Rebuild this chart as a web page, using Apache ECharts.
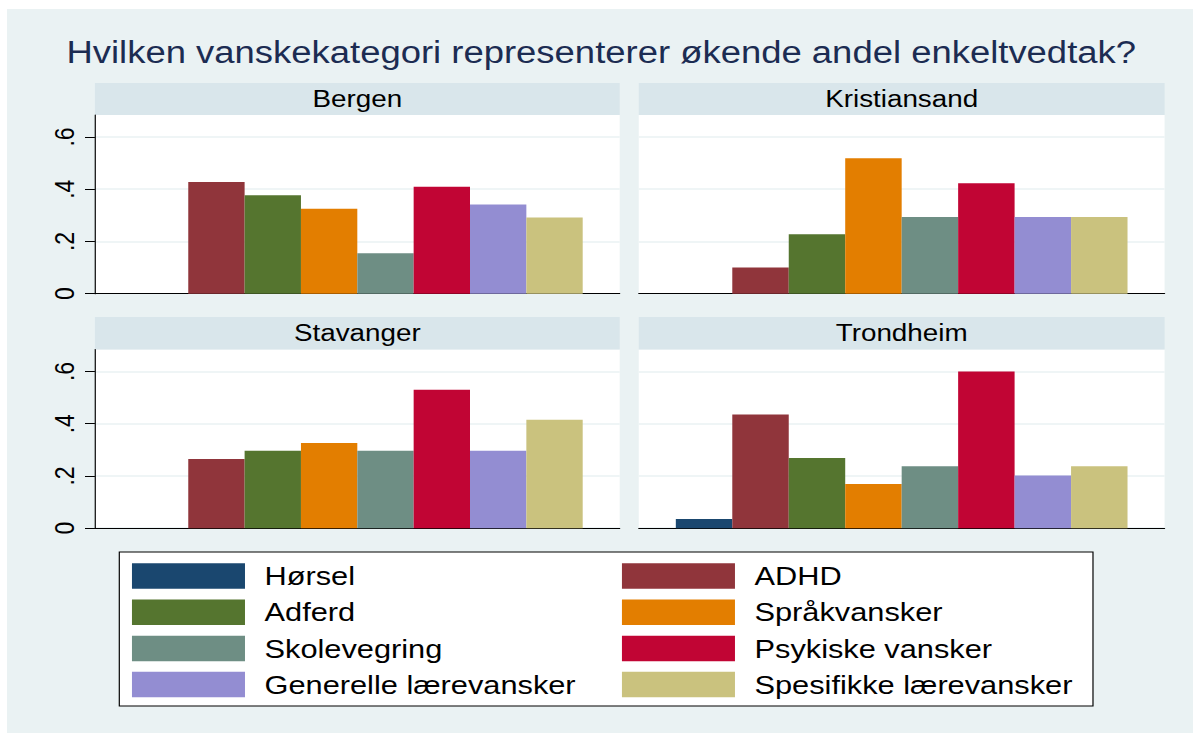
<!DOCTYPE html>
<html>
<head>
<meta charset="utf-8">
<script src="https://cdn.jsdelivr.net/npm/echarts@6.0.0/dist/echarts.min.js"></script>
<style>
  html, body { margin: 0; padding: 0; background: #fff; overflow: hidden; }
  /* the reference is a 4:3-ish graph stretched sideways, so draw narrow and stretch */
  #chart { width: 1008px; height: 733px; transform: scaleX(1.18353); transform-origin: 0 0; }
</style>
</head>
<body>
<div id="chart"></div>
<script>
const titleText = "Hvilken vanskekategori representerer økende andel enkeltvedtak?";
const categories = ["Hørsel", "ADHD", "Adferd", "Språkvansker", "Skolevegring",
  "Psykiske vansker", "Generelle lærevansker", "Spesifikke lærevansker"];
const colors = ["#1a476f", "#90353b", "#55752f", "#e37e00", "#6e8e84",
  "#c10534", "#938dd2", "#cac27e"];
const cities = ["Bergen", "Kristiansand", "Stavanger", "Trondheim"];
const bergen = [0, 0.428, 0.377, 0.325, 0.155, 0.409, 0.341, 0.292];
const kristiansand = [0, 0.1, 0.228, 0.518, 0.294, 0.423, 0.294, 0.294];
const stavanger = [0, 0.265, 0.296, 0.326, 0.296, 0.53, 0.296, 0.415];
const trondheim = [0.035, 0.435, 0.269, 0.169, 0.237, 0.6, 0.202, 0.237];
const yTicks = [0, 0.2, 0.4, 0.6];
const yTickLabels = ["0", ".2", ".4", ".6"];

const cityValues = [bergen, kristiansand, stavanger, trondheim];
const font = "Liberation Sans, Arial, sans-serif";

// plot regions (unstretched px)
const panels = [
  { left: 80.2, top: 115, width: 443.4, height: 178.7 },
  { left: 539.7, top: 115, width: 444.3, height: 178.7 },
  { left: 80.2, top: 349.5, width: 443.4, height: 178.7 },
  { left: 539.7, top: 349.5, width: 444.3, height: 178.7 },
];

let myChart = echarts.init(document.getElementById("chart"), null, { renderer: "svg" });

let series = [];
panels.forEach((p, pi) => {
  categories.forEach((c, ci) => {
    series.push({
      type: "bar",
      name: c,
      xAxisIndex: pi,
      yAxisIndex: pi,
      data: [cityValues[pi][ci]],
      itemStyle: { color: colors[ci] },
      barGap: "0%",
      barCategoryGap: "14.1%",
      silent: true,
    });
  });
});

let graphic = [
  // white outer margin
  { type: "rect", shape: { x: 0, y: 0, width: 1008, height: 9 }, style: { fill: "#fff" } },
  { type: "rect", shape: { x: 0, y: 0, width: 5.9, height: 733 }, style: { fill: "#fff" } },
  {
    type: "text", x: 508, y: 52,
    style: { text: titleText, fontSize: 30.8, fontFamily: font, fill: "#1c2c52", align: "center", verticalAlign: "middle" },
  },
  // legend box
  {
    type: "rect", shape: { x: 100.8, y: 552, width: 822.7, height: 154 },
    style: { fill: "#fff", stroke: "#000", lineWidth: 1 },
  },
];
panels.forEach((p, pi) => {
  let hTop = pi < 2 ? 83 : 317;
  graphic.push({
    type: "rect", shape: { x: p.left, y: hTop, width: p.width, height: p.top - hTop },
    style: { fill: "#d9e6eb" },
  });
  graphic.push({
    type: "text", x: p.left + p.width / 2, y: hTop + (p.top - hTop) / 2,
    style: { text: cities[pi], fontSize: 23.5, fontFamily: font, fill: "#000", align: "center", verticalAlign: "middle" },
  });
});

const legendBase = {
  orient: "vertical",
  top: 563,
  padding: 0,
  icon: "rect",
  itemWidth: 95.5,
  itemHeight: 25.5,
  itemGap: 10.2,
  selectedMode: false,
  textStyle: { fontSize: 26, fontFamily: font, color: "#000", lineHeight: 25.5, padding: [0, 0, 0, 11.5] },
};

myChart.setOption({
  animation: false,
  backgroundColor: "#eaf2f3",
  legend: [
    Object.assign({}, legendBase, { left: 111.5, data: categories.filter((c, i) => i % 2 === 0) }),
    Object.assign({}, legendBase, { left: 525.5, data: categories.filter((c, i) => i % 2 === 1) }),
  ],
  grid: panels.map((p) => ({
    left: p.left, top: p.top, width: p.width, height: p.height,
    show: true, backgroundColor: "#fff", borderWidth: 0,
  })),
  xAxis: panels.map((p, i) => ({
    type: "category",
    gridIndex: i,
    data: [""],
    axisLine: { lineStyle: { color: "#000", width: 1 } },
    axisTick: { show: false },
    axisLabel: { show: false },
  })),
  yAxis: panels.map((p, i) => ({
    type: "value",
    gridIndex: i,
    min: 0,
    max: 0.684,
    interval: 0.2,
    axisLine: { show: i % 2 === 0, lineStyle: { color: "#000", width: 1 } },
    axisTick: { show: i % 2 === 0, length: 8.4, customValues: yTicks, lineStyle: { color: "#000" } },
    axisLabel: {
      show: i % 2 === 0,
      customValues: yTicks,
      rotate: 90,
      margin: 14,
      fontSize: 23,
      fontFamily: font,
      color: "#000",
      formatter: (v) => {
        let k = yTicks.findIndex((t) => Math.abs(t - v) < 1e-6);
        return k < 0 ? "" : yTickLabels[k];
      },
    },
    splitLine: { lineStyle: { color: "#eaf2f3", width: 1.5 } },
  })),
  graphic: graphic,
  series: series,
});
</script>
</body>
</html>
